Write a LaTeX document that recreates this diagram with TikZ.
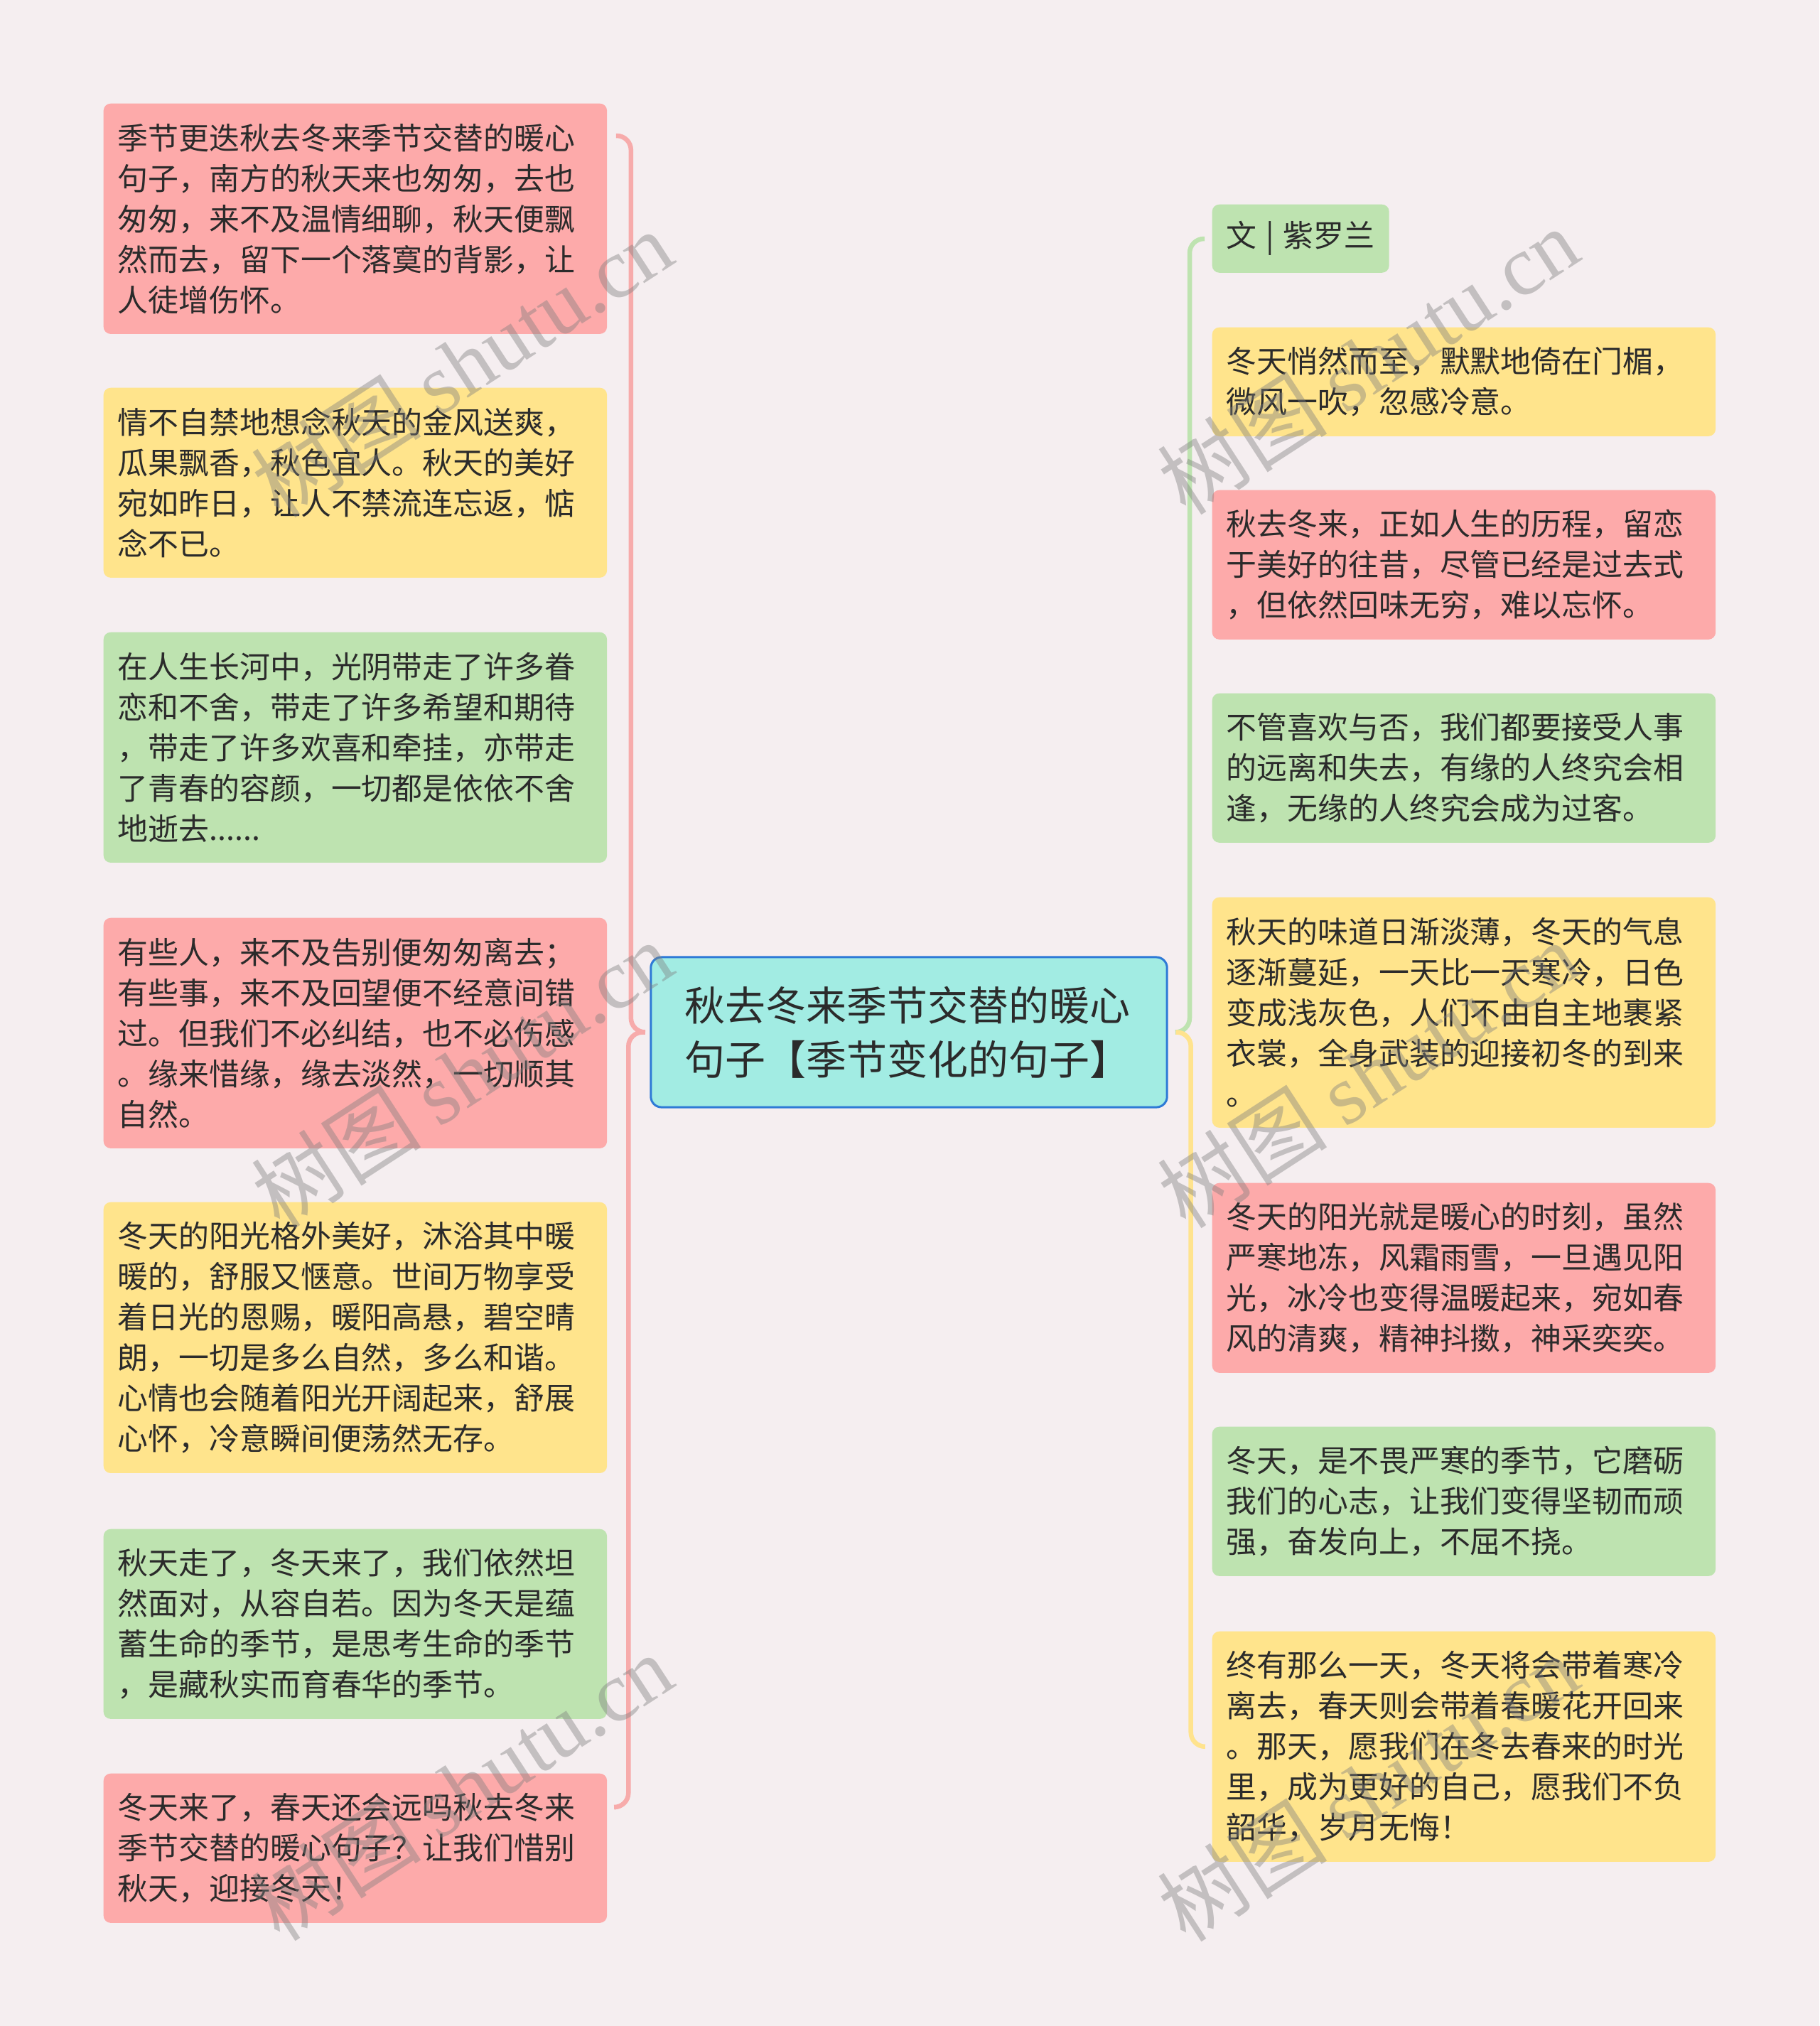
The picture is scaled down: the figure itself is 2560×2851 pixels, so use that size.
\documentclass[tikz,border=0pt]{standalone}
\usepackage{fontspec}
\setmainfont{Noto Sans CJK SC}
\newfontfamily\wmlatin{Liberation Serif}
\newfontfamily\wmcjk{Noto Sans CJK SC}
\usetikzlibrary{calc}
\definecolor{bg}{HTML}{F5EEF0}
\definecolor{cred}{HTML}{FDAAAA}
\definecolor{cyellow}{HTML}{FFE48C}
\definecolor{cgreen}{HTML}{BEE3B0}
\definecolor{ccyan}{HTML}{A2ECE3}
\definecolor{cblue}{HTML}{2E7AD6}
\definecolor{txt}{HTML}{2B2B2B}
\definecolor{lpink}{HTML}{F7ABAB}
\definecolor{lgreen}{HTML}{BEE3B0}
\definecolor{lyellow}{HTML}{FFE38E}
\definecolor{wmgray}{HTML}{7F7F7F}
\newcommand\leaffont{\fontsize{12.2pt}{16.2pt}\selectfont}
\tikzset{
  leaf/.style={rounded corners=0.1cm, inner xsep=0.2cm, inner ysep=0cm, text width=6.68cm,
    align=left, anchor=north west, font=\leaffont, text=txt},
  redleaf/.style={leaf, fill=cred},
  yelleaf/.style={leaf, fill=cyellow},
  grnleaf/.style={leaf, fill=cgreen},
  brline/.style={line width=0.065cm, rounded corners=0.2cm},
  wmark/.style={rotate=33, text=wmgray, opacity=0.42, font=\fontsize{34pt}{38pt}\selectfont, inner sep=0pt}
}
\begin{document}
\begin{tikzpicture}[x=0.01cm, y=-0.01cm]
\fill[bg] (0,0) rectangle (2560,2851);
\useasboundingbox (0,0) rectangle (2560,2851);

% center
\node[rounded corners=0.15cm, fill=ccyan, draw=cblue, line width=0.03cm,
  minimum width=7.26cm, minimum height=2.11cm, text width=6.3cm, align=left,
  inner xsep=0.48cm, text=txt, font=\fontsize{16.2pt}{21.6pt}\selectfont]
  (C) at (1279,1452.5) {秋去冬来季节交替的暖心\\句子【季节变化的句子】};

% left children
\node[redleaf, minimum height=3.24cm] (L1) at (145,145)
 {季节更迭秋去冬来季节交替的暖心\\句子，南方的秋天来也匆匆，去也\\匆匆，来不及温情细聊，秋天便飘\\然而去，留下一个落寞的背影，让\\人徒增伤怀。};
\node[yelleaf, minimum height=2.67cm] (L2) at (145,545)
 {情不自禁地想念秋天的金风送爽，\\瓜果飘香，秋色宜人。秋天的美好\\宛如昨日，让人不禁流连忘返，惦\\念不已。};
\node[grnleaf, minimum height=3.24cm] (L3) at (145,889)
 {在人生长河中，光阴带走了许多眷\\恋和不舍，带走了许多希望和期待\\，带走了许多欢喜和牵挂，亦带走\\了青春的容颜，一切都是依依不舍\\地逝去......};
\node[redleaf, minimum height=3.24cm] (L4) at (145,1291)
 {有些人，来不及告别便匆匆离去；\\有些事，来不及回望便不经意间错\\过。但我们不必纠结，也不必伤感\\。缘来惜缘，缘去淡然，一切顺其\\自然。};
\node[yelleaf, minimum height=3.81cm] (L5) at (145,1691)
 {冬天的阳光格外美好，沐浴其中暖\\暖的，舒服又惬意。世间万物享受\\着日光的恩赐，暖阳高悬，碧空晴\\朗，一切是多么自然，多么和谐。\\心情也会随着阳光开阔起来，舒展\\心怀，冷意瞬间便荡然无存。};
\node[grnleaf, minimum height=2.67cm] (L6) at (145,2151)
 {秋天走了，冬天来了，我们依然坦\\然面对，从容自若。因为冬天是蕴\\蓄生命的季节，是思考生命的季节\\，是藏秋实而育春华的季节。};
\node[redleaf, minimum height=2.10cm] (L7) at (145,2495)
 {冬天来了，春天还会远吗秋去冬来\\季节交替的暖心句子？让我们惜别\\秋天，迎接冬天！};

% right children
\node[grnleaf, text width=, minimum height=0.96cm] (R0) at (1705,287) {文\hspace{0.3em}|\hspace{0.3em}紫罗兰};
\node[yelleaf, minimum height=1.53cm] (R1) at (1705,460)
 {冬天悄然而至，默默地倚在门楣，\\微风一吹，忽感冷意。};
\node[redleaf, minimum height=2.10cm] (R2) at (1705,689)
 {秋去冬来，正如人生的历程，留恋\\于美好的往昔，尽管已经是过去式\\，但依然回味无穷，难以忘怀。};
\node[grnleaf, minimum height=2.10cm] (R3) at (1705,975)
 {不管喜欢与否，我们都要接受人事\\的远离和失去，有缘的人终究会相\\逢，无缘的人终究会成为过客。};
\node[yelleaf, minimum height=3.24cm] (R4) at (1705,1262)
 {秋天的味道日渐淡薄，冬天的气息\\逐渐蔓延，一天比一天寒冷，日色\\变成浅灰色，人们不由自主地裹紧\\衣裳，全身武装的迎接初冬的到来\\。};
\node[redleaf, minimum height=2.67cm] (R5) at (1705,1664)
 {冬天的阳光就是暖心的时刻，虽然\\严寒地冻，风霜雨雪，一旦遇见阳\\光，冰冷也变得温暖起来，宛如春\\风的清爽，精神抖擞，神采奕奕。};
\node[grnleaf, minimum height=2.10cm] (R6) at (1705,2007)
 {冬天，是不畏严寒的季节，它磨砺\\我们的心志，让我们变得坚韧而顽\\强，奋发向上，不屈不挠。};
\node[yelleaf, minimum height=3.24cm] (R7) at (1705,2295)
 {终有那么一天，冬天将会带着寒冷\\离去，春天则会带着春暖花开回来\\。那天，愿我们在冬去春来的时光\\里，成为更好的自己，愿我们不负\\韶华，岁月无悔！};

% bracket anchor points
\coordinate (lt) at ($(L1.north east)+(12,46)$);
\coordinate (lb) at ($(L7.north east)+(12,48)$);
\coordinate (lc) at ($(C.west)+(-9,0)$);
\coordinate (rt) at ($(R0.north west)+(-10,49)$);
\coordinate (rb) at ($(R7.west)+(-10,0)$);
\coordinate (rc) at ($(C.east)+(11,0)$);

\draw[brline, lpink] (lt) -- ++(21,0) |- (lc);
\draw[brline, lpink] (lc) -- ++(-21,0) |- (lb);
\draw[brline, lgreen] (rt) -- ++(-21,0) |- (rc);
\draw[brline, lyellow] (rc) -- ++(21,0) |- (rb);

% watermarks
\node[wmark] (wm1) at (650,512) {\wmcjk 树图 \wmlatin shutu.cn};
\node[wmark] (wm2) at (650,1512) {\wmcjk 树图 \wmlatin shutu.cn};
\node[wmark] (wm3) at (650,2515) {\wmcjk 树图 \wmlatin shutu.cn};
\node[wmark] (wm4) at (1925,508) {\wmcjk 树图 \wmlatin shutu.cn};
\node[wmark] (wm5) at (1925,1512) {\wmcjk 树图 \wmlatin shutu.cn};
\node[wmark] (wm6) at (1925,2516) {\wmcjk 树图 \wmlatin shutu.cn};
\end{tikzpicture}
\end{document}
